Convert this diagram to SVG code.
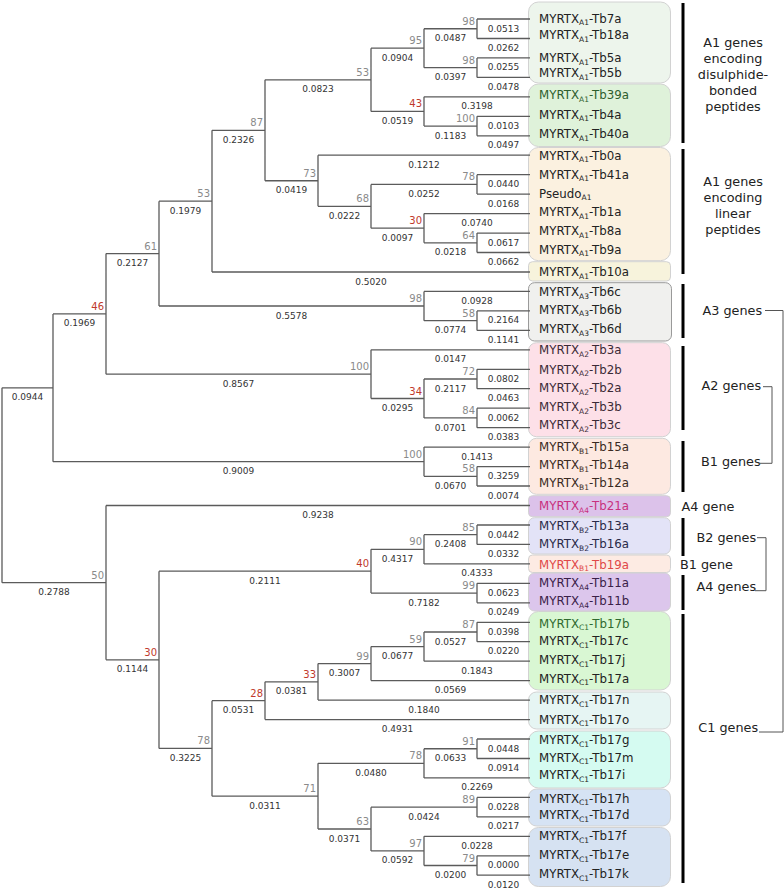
<svg xmlns="http://www.w3.org/2000/svg" width="784" height="889" viewBox="0 0 784 889">
<style>
text{font-family:"DejaVu Sans","Liberation Sans",sans-serif}
.tree{fill:none;stroke:#5b5b5b;stroke-width:1.3}
.bl{font-size:9px;fill:#333;text-anchor:middle}
.sup{font-size:10px;fill:#8a8a8a;text-anchor:end}
.red{fill:#c0392b}
.lf{font-size:11.8px;fill:#222}
.sb{font-size:7.5px}
.box{stroke:#d2d2d2;stroke-width:1}
.bar{stroke:#000;stroke-width:3}
.gl{font-size:12.8px;fill:#222}
.gc{text-anchor:middle}
.brk{fill:none;stroke:#555;stroke-width:1}
</style>
<rect width="784" height="889" fill="#fff"/>
<g id="clade-boxes">
<rect id="box-a1-db1" class="box" x="528.5" y="2" width="142" height="81" rx="10" fill="#edf5ec"/>
<rect id="box-a1-db2" class="box" x="528.5" y="84" width="142" height="62.5" rx="10" fill="#dff2da"/>
<rect id="box-a1-lin" class="box" x="528.5" y="147.5" width="142" height="113.2" rx="10" fill="#fbf1e0"/>
<rect id="box-a1-10a" class="box" x="528.5" y="261.7" width="142" height="19.3" rx="4" fill="#f7f3dc"/>
<rect id="box-a3" class="box" x="528.5" y="282.7" width="143" height="58.3" rx="6" fill="#f0f0ee" style="stroke:#9a9a9a"/>
<rect id="box-a2" class="box" x="528.5" y="342.7" width="142" height="94" rx="8" fill="#fde0e8"/>
<rect id="box-b1" class="box" x="528.5" y="438.3" width="142" height="56" rx="8" fill="#fde9e1"/>
<rect id="box-a4-21a" class="box" x="528.5" y="495.7" width="142" height="21" rx="4" fill="#dcc2ea"/>
<rect id="box-b2" class="box" x="528.5" y="517.7" width="142" height="36.3" rx="6" fill="#e3e3f7"/>
<rect id="box-b1-19a" class="box" x="528.5" y="555" width="142" height="17.5" rx="4" fill="#fdebe3"/>
<rect id="box-a4" class="box" x="528.5" y="573" width="142" height="38" rx="6" fill="#dcc6ec"/>
<rect id="box-c1-a" class="box" x="528.5" y="611.5" width="142" height="78.5" rx="10" fill="#d9f7d3"/>
<rect id="box-c1-b" class="box" x="528.5" y="692" width="142" height="37" rx="8" fill="#e6f5f3"/>
<rect id="box-c1-c" class="box" x="528.5" y="731" width="142" height="57" rx="10" fill="#d5fbf1"/>
<rect id="box-c1-d" class="box" x="528.5" y="789" width="142" height="37" rx="8" fill="#d6e3f4"/>
<rect id="box-c1-e" class="box" x="528.5" y="827.5" width="142" height="59" rx="10" fill="#d6e2f2"/>
</g>
<g id="connectors">
<path class="tree" d="M2,387.8V582.65M2,387.8H53M2,582.65H106
M53,313.9V461.7M53,313.9H106M53,461.7H424
M106,253.6V374.15M106,253.6H159M106,374.15H371
M159,201.15V306M159,201.15H212M159,306H424
M212,130.3V272M212,130.3H265M212,272H530
M265,79.8V180.75M265,79.8H371M265,180.75H318
M371,48.2V111.4M371,48.2H424M371,111.4H424
M424,28.75V67.65M424,28.75H477M424,67.65H477
M477,19V38.5M477,19H530M477,38.5H530
M477,57.9V77.4M477,57.9H530M477,77.4H530
M424,96.8V126.05M424,96.8H530M424,126.05H477
M477,116.3V135.8M477,116.3H530M477,135.8H530
M318,155.2V206.3M318,155.2H530M318,206.3H371
M371,184.4V228.2M371,184.4H477M371,228.2H424
M477,174.7V194.1M477,174.7H530M477,194.1H530
M424,213.6V242.8M424,213.6H530M424,242.8H477
M477,233.1V252.5M477,233.1H530M477,252.5H530
M424,291.4V320.65M424,291.4H530M424,320.65H477
M477,310.9V330.4M477,310.9H530M477,330.4H530
M371,349.8V398.5M371,349.8H530M371,398.5H424
M424,379V417.95M424,379H477M424,417.95H477
M477,369.3V388.7M477,369.3H530M477,388.7H530
M477,408.2V427.7M477,408.2H530M477,427.7H530
M424,447.1V476.3M424,447.1H530M424,476.3H477
M477,466.6V486M477,466.6H530M477,486H530
M106,505.5V659.8M106,505.5H530M106,659.8H159
M159,571.2V748.4M159,571.2H371M159,748.4H212
M371,549.3V593.05M371,549.3H424M371,593.05H477
M424,534.7V563.9M424,534.7H477M424,563.9H530
M477,525V544.4M477,525H530M477,544.4H530
M477,583.3V602.8M477,583.3H530M477,602.8H530
M212,700.7V796.15M212,700.7H265M212,796.15H318
M265,681.85V719.6M265,681.85H318M265,719.6H530
M318,663.6V700.1M318,663.6H371M318,700.1H530
M371,646.6V680.6M371,646.6H424M371,680.6H530
M424,632V661.2M424,632H477M424,661.2H530
M477,622.3V641.7M477,622.3H530M477,641.7H530
M318,763.3V829M318,763.3H424M318,829H371
M424,748.75V777.9M424,748.75H477M424,777.9H530
M477,739V758.5M477,739H530M477,758.5H530
M371,807.15V850.9M371,807.15H477M371,850.9H424
M477,797.4V816.9M477,797.4H530M477,816.9H530
M424,836.3V865.5M424,836.3H530M424,865.5H477
M477,855.8V875.2M477,855.8H530M477,875.2H530"/>
<g id="branch-lengths">
<text class="bl" x="27.5" y="400.3">0.0944</text><text class="bl" x="54" y="595.2">0.2788</text>
<text class="bl" x="79.5" y="326.4">0.1969</text><text class="bl" x="238.5" y="474.2">0.9009</text>
<text class="bl" x="132.5" y="266.1">0.2127</text><text class="bl" x="238.5" y="386.7">0.8567</text>
<text class="bl" x="185.5" y="213.7">0.1979</text><text class="bl" x="291.5" y="318.5">0.5578</text>
<text class="bl" x="238.5" y="142.8">0.2326</text><text class="bl" x="371" y="284.5">0.5020</text>
<text class="bl" x="318" y="92.3">0.0823</text><text class="bl" x="291.5" y="193.3">0.0419</text>
<text class="bl" x="397.5" y="60.7">0.0904</text><text class="bl" x="397.5" y="123.9">0.0519</text>
<text class="bl" x="450.5" y="41.3">0.0487</text><text class="bl" x="450.5" y="80.2">0.0397</text>
<text class="bl" x="503.5" y="31.5">0.0513</text><text class="bl" x="503.5" y="51">0.0262</text>
<text class="bl" x="503.5" y="70.4">0.0255</text><text class="bl" x="503.5" y="89.9">0.0478</text>
<text class="bl" x="477" y="109.3">0.3198</text><text class="bl" x="450.5" y="138.6">0.1183</text>
<text class="bl" x="503.5" y="128.8">0.0103</text><text class="bl" x="503.5" y="148.3">0.0497</text>
<text class="bl" x="424" y="167.7">0.1212</text><text class="bl" x="344.5" y="218.8">0.0222</text>
<text class="bl" x="424" y="196.9">0.0252</text><text class="bl" x="397.5" y="240.7">0.0097</text>
<text class="bl" x="503.5" y="187.2">0.0440</text><text class="bl" x="503.5" y="206.6">0.0168</text>
<text class="bl" x="477" y="226.1">0.0740</text><text class="bl" x="450.5" y="255.3">0.0218</text>
<text class="bl" x="503.5" y="245.6">0.0617</text><text class="bl" x="503.5" y="265">0.0662</text>
<text class="bl" x="477" y="303.9">0.0928</text><text class="bl" x="450.5" y="333.2">0.0774</text>
<text class="bl" x="503.5" y="323.4">0.2164</text><text class="bl" x="503.5" y="342.9">0.1141</text>
<text class="bl" x="450.5" y="362.3">0.0147</text><text class="bl" x="397.5" y="411">0.0295</text>
<text class="bl" x="450.5" y="391.5">0.2117</text><text class="bl" x="450.5" y="430.5">0.0701</text>
<text class="bl" x="503.5" y="381.8">0.0802</text><text class="bl" x="503.5" y="401.2">0.0463</text>
<text class="bl" x="503.5" y="420.7">0.0062</text><text class="bl" x="503.5" y="440.2">0.0383</text>
<text class="bl" x="477" y="459.6">0.1413</text><text class="bl" x="450.5" y="488.8">0.0670</text>
<text class="bl" x="503.5" y="479.1">0.3259</text><text class="bl" x="503.5" y="498.5">0.0074</text>
<text class="bl" x="318" y="518">0.9238</text><text class="bl" x="132.5" y="672.3">0.1144</text>
<text class="bl" x="265" y="583.7">0.2111</text><text class="bl" x="185.5" y="760.9">0.3225</text>
<text class="bl" x="397.5" y="561.8">0.4317</text><text class="bl" x="424" y="605.6">0.7182</text>
<text class="bl" x="450.5" y="547.2">0.2408</text><text class="bl" x="477" y="576.4">0.4333</text>
<text class="bl" x="503.5" y="537.5">0.0442</text><text class="bl" x="503.5" y="556.9">0.0332</text>
<text class="bl" x="503.5" y="595.8">0.0623</text><text class="bl" x="503.5" y="615.3">0.0249</text>
<text class="bl" x="238.5" y="713.2">0.0531</text><text class="bl" x="265" y="808.7">0.0311</text>
<text class="bl" x="291.5" y="694.4">0.0381</text><text class="bl" x="397.5" y="732.1">0.4931</text>
<text class="bl" x="344.5" y="676.1">0.3007</text><text class="bl" x="424" y="712.6">0.1840</text>
<text class="bl" x="397.5" y="659.1">0.0677</text><text class="bl" x="450.5" y="693.1">0.0569</text>
<text class="bl" x="450.5" y="644.5">0.0527</text><text class="bl" x="477" y="673.7">0.1843</text>
<text class="bl" x="503.5" y="634.8">0.0398</text><text class="bl" x="503.5" y="654.2">0.0220</text>
<text class="bl" x="371" y="775.8">0.0480</text><text class="bl" x="344.5" y="841.5">0.0371</text>
<text class="bl" x="450.5" y="761.3">0.0633</text><text class="bl" x="477" y="790.4">0.2269</text>
<text class="bl" x="503.5" y="751.5">0.0448</text><text class="bl" x="503.5" y="771">0.0914</text>
<text class="bl" x="424" y="819.7">0.0424</text><text class="bl" x="397.5" y="863.4">0.0592</text>
<text class="bl" x="503.5" y="809.9">0.0228</text><text class="bl" x="503.5" y="829.4">0.0217</text>
<text class="bl" x="477" y="848.8">0.0228</text><text class="bl" x="450.5" y="878">0.0200</text>
<text class="bl" x="503.5" y="868.3">0.0000</text><text class="bl" x="503.5" y="887.7">0.0120</text>
</g>
</g>
<g id="internal-nodes">
<g id="n98a"><text class="sup" x="475" y="24.75">98</text></g>
<g id="n98b"><text class="sup" x="475" y="63.65">98</text></g>
<g id="n95"><text class="sup" x="422" y="44.2">95</text></g>
<g id="n100a"><text class="sup" x="475" y="122.05">100</text></g>
<g id="n43"><text class="sup red" x="422" y="107.4">43</text></g>
<g id="n53a"><text class="sup" x="369" y="75.8">53</text></g>
<g id="n78a"><text class="sup" x="475" y="180.4">78</text></g>
<g id="n64"><text class="sup" x="475" y="238.8">64</text></g>
<g id="n30a"><text class="sup red" x="422" y="224.2">30</text></g>
<g id="n68"><text class="sup" x="369" y="202.3">68</text></g>
<g id="n73"><text class="sup" x="316" y="176.75">73</text></g>
<g id="n87"><text class="sup" x="263" y="126.3">87</text></g>
<g id="n53b"><text class="sup" x="210" y="197.15">53</text></g>
<g id="n58a"><text class="sup" x="475" y="316.65">58</text></g>
<g id="n98c"><text class="sup" x="422" y="302">98</text></g>
<g id="n61"><text class="sup" x="157" y="249.6">61</text></g>
<g id="n72"><text class="sup" x="475" y="375">72</text></g>
<g id="n84"><text class="sup" x="475" y="413.95">84</text></g>
<g id="n34"><text class="sup red" x="422" y="394.5">34</text></g>
<g id="n100b"><text class="sup" x="369" y="370.15">100</text></g>
<g id="n46"><text class="sup red" x="104" y="309.9">46</text></g>
<g id="n58b"><text class="sup" x="475" y="472.3">58</text></g>
<g id="n100c"><text class="sup" x="422" y="457.7">100</text></g>
<g id="n50"><text class="sup" x="104" y="578.65">50</text></g>
<g id="n85"><text class="sup" x="475" y="530.7">85</text></g>
<g id="n90"><text class="sup" x="422" y="545.3">90</text></g>
<g id="n99a"><text class="sup" x="475" y="589.05">99</text></g>
<g id="n40"><text class="sup red" x="369" y="567.2">40</text></g>
<g id="n87b"><text class="sup" x="475" y="628">87</text></g>
<g id="n59"><text class="sup" x="422" y="642.6">59</text></g>
<g id="n99b"><text class="sup" x="369" y="659.6">99</text></g>
<g id="n33"><text class="sup red" x="316" y="677.85">33</text></g>
<g id="n28"><text class="sup red" x="263" y="696.7">28</text></g>
<g id="n30b"><text class="sup red" x="157" y="655.8">30</text></g>
<g id="n91"><text class="sup" x="475" y="744.75">91</text></g>
<g id="n78c"><text class="sup" x="422" y="759.3">78</text></g>
<g id="n89"><text class="sup" x="475" y="803.15">89</text></g>
<g id="n79"><text class="sup" x="475" y="861.5">79</text></g>
<g id="n97"><text class="sup" x="422" y="846.9">97</text></g>
<g id="n63"><text class="sup" x="369" y="825">63</text></g>
<g id="n71"><text class="sup" x="316" y="792.15">71</text></g>
<g id="n78b"><text class="sup" x="210" y="744.4">78</text></g>
</g>
<g id="leaves">
<g id="leaf-Tb7a"><text class="lf" x="539" y="22.6">MYRTX<tspan class="sb" dy="2.5">A1</tspan><tspan dy="-2.5">-Tb7a</tspan></text></g>
<g id="leaf-Tb18a"><text class="lf" x="539" y="39.3">MYRTX<tspan class="sb" dy="2.5">A1</tspan><tspan dy="-2.5">-Tb18a</tspan></text></g>
<g id="leaf-Tb5a"><text class="lf" x="539" y="62">MYRTX<tspan class="sb" dy="2.5">A1</tspan><tspan dy="-2.5">-Tb5a</tspan></text></g>
<g id="leaf-Tb5b"><text class="lf" x="539" y="77">MYRTX<tspan class="sb" dy="2.5">A1</tspan><tspan dy="-2.5">-Tb5b</tspan></text></g>
<g id="leaf-Tb39a"><text class="lf" x="539" y="99.3" style="fill:#2e5e2e">MYRTX<tspan class="sb" dy="2.5">A1</tspan><tspan dy="-2.5">-Tb39a</tspan></text></g>
<g id="leaf-Tb4a"><text class="lf" x="539" y="118.6">MYRTX<tspan class="sb" dy="2.5">A1</tspan><tspan dy="-2.5">-Tb4a</tspan></text></g>
<g id="leaf-Tb40a"><text class="lf" x="539" y="138.3">MYRTX<tspan class="sb" dy="2.5">A1</tspan><tspan dy="-2.5">-Tb40a</tspan></text></g>
<g id="leaf-Tb0a"><text class="lf" x="539" y="159.6">MYRTX<tspan class="sb" dy="2.5">A1</tspan><tspan dy="-2.5">-Tb0a</tspan></text></g>
<g id="leaf-Tb41a"><text class="lf" x="539" y="178.6">MYRTX<tspan class="sb" dy="2.5">A1</tspan><tspan dy="-2.5">-Tb41a</tspan></text></g>
<g id="leaf-Pseudo"><text class="lf" x="539" y="197.6">Pseudo<tspan class="sb" dy="2.5">A1</tspan></text></g>
<g id="leaf-Tb1a"><text class="lf" x="539" y="216">MYRTX<tspan class="sb" dy="2.5">A1</tspan><tspan dy="-2.5">-Tb1a</tspan></text></g>
<g id="leaf-Tb8a"><text class="lf" x="539" y="235.3">MYRTX<tspan class="sb" dy="2.5">A1</tspan><tspan dy="-2.5">-Tb8a</tspan></text></g>
<g id="leaf-Tb9a"><text class="lf" x="539" y="253.6">MYRTX<tspan class="sb" dy="2.5">A1</tspan><tspan dy="-2.5">-Tb9a</tspan></text></g>
<g id="leaf-Tb10a"><text class="lf" x="539" y="276">MYRTX<tspan class="sb" dy="2.5">A1</tspan><tspan dy="-2.5">-Tb10a</tspan></text></g>
<g id="leaf-Tb6c"><text class="lf" x="539" y="296">MYRTX<tspan class="sb" dy="2.5">A3</tspan><tspan dy="-2.5">-Tb6c</tspan></text></g>
<g id="leaf-Tb6b"><text class="lf" x="539" y="313.6">MYRTX<tspan class="sb" dy="2.5">A3</tspan><tspan dy="-2.5">-Tb6b</tspan></text></g>
<g id="leaf-Tb6d"><text class="lf" x="539" y="333.3">MYRTX<tspan class="sb" dy="2.5">A3</tspan><tspan dy="-2.5">-Tb6d</tspan></text></g>
<g id="leaf-Tb3a"><text class="lf" x="539" y="354.3" style="fill:#3b2a36">MYRTX<tspan class="sb" dy="2.5">A2</tspan><tspan dy="-2.5">-Tb3a</tspan></text></g>
<g id="leaf-Tb2b"><text class="lf" x="539" y="373.6" style="fill:#3b2a36">MYRTX<tspan class="sb" dy="2.5">A2</tspan><tspan dy="-2.5">-Tb2b</tspan></text></g>
<g id="leaf-Tb2a"><text class="lf" x="539" y="392" style="fill:#3b2a36">MYRTX<tspan class="sb" dy="2.5">A2</tspan><tspan dy="-2.5">-Tb2a</tspan></text></g>
<g id="leaf-Tb3b"><text class="lf" x="539" y="411.3" style="fill:#3b2a36">MYRTX<tspan class="sb" dy="2.5">A2</tspan><tspan dy="-2.5">-Tb3b</tspan></text></g>
<g id="leaf-Tb3c"><text class="lf" x="539" y="429.3" style="fill:#3b2a36">MYRTX<tspan class="sb" dy="2.5">A2</tspan><tspan dy="-2.5">-Tb3c</tspan></text></g>
<g id="leaf-Tb15a"><text class="lf" x="539" y="451" style="fill:#3a2a22">MYRTX<tspan class="sb" dy="2.5">B1</tspan><tspan dy="-2.5">-Tb15a</tspan></text></g>
<g id="leaf-Tb14a"><text class="lf" x="539" y="469.3" style="fill:#3a2a22">MYRTX<tspan class="sb" dy="2.5">B1</tspan><tspan dy="-2.5">-Tb14a</tspan></text></g>
<g id="leaf-Tb12a"><text class="lf" x="539" y="487" style="fill:#3a2a22">MYRTX<tspan class="sb" dy="2.5">B1</tspan><tspan dy="-2.5">-Tb12a</tspan></text></g>
<g id="leaf-Tb21a"><text class="lf" x="539" y="510.3" style="fill:#c8307e">MYRTX<tspan class="sb" dy="2.5">A4</tspan><tspan dy="-2.5">-Tb21a</tspan></text></g>
<g id="leaf-Tb13a"><text class="lf" x="539" y="530" style="fill:#2a2a48">MYRTX<tspan class="sb" dy="2.5">B2</tspan><tspan dy="-2.5">-Tb13a</tspan></text></g>
<g id="leaf-Tb16a"><text class="lf" x="539" y="548.3" style="fill:#2a2a48">MYRTX<tspan class="sb" dy="2.5">B2</tspan><tspan dy="-2.5">-Tb16a</tspan></text></g>
<g id="leaf-Tb19a"><text class="lf" x="539" y="568.6" style="fill:#e04848">MYRTX<tspan class="sb" dy="2.5">B1</tspan><tspan dy="-2.5">-Tb19a</tspan></text></g>
<g id="leaf-Tb11a"><text class="lf" x="539" y="587" style="fill:#3a2048">MYRTX<tspan class="sb" dy="2.5">A4</tspan><tspan dy="-2.5">-Tb11a</tspan></text></g>
<g id="leaf-Tb11b"><text class="lf" x="539" y="605" style="fill:#3a2048">MYRTX<tspan class="sb" dy="2.5">A4</tspan><tspan dy="-2.5">-Tb11b</tspan></text></g>
<g id="leaf-Tb17b"><text class="lf" x="539" y="627.6" style="fill:#2f6a2f">MYRTX<tspan class="sb" dy="2.5">C1</tspan><tspan dy="-2.5">-Tb17b</tspan></text></g>
<g id="leaf-Tb17c"><text class="lf" x="539" y="645.3">MYRTX<tspan class="sb" dy="2.5">C1</tspan><tspan dy="-2.5">-Tb17c</tspan></text></g>
<g id="leaf-Tb17j"><text class="lf" x="539" y="664.3">MYRTX<tspan class="sb" dy="2.5">C1</tspan><tspan dy="-2.5">-Tb17j</tspan></text></g>
<g id="leaf-Tb17a"><text class="lf" x="539" y="682.6">MYRTX<tspan class="sb" dy="2.5">C1</tspan><tspan dy="-2.5">-Tb17a</tspan></text></g>
<g id="leaf-Tb17n"><text class="lf" x="539" y="704.3">MYRTX<tspan class="sb" dy="2.5">C1</tspan><tspan dy="-2.5">-Tb17n</tspan></text></g>
<g id="leaf-Tb17o"><text class="lf" x="539" y="723.6">MYRTX<tspan class="sb" dy="2.5">C1</tspan><tspan dy="-2.5">-Tb17o</tspan></text></g>
<g id="leaf-Tb17g"><text class="lf" x="539" y="744.3">MYRTX<tspan class="sb" dy="2.5">C1</tspan><tspan dy="-2.5">-Tb17g</tspan></text></g>
<g id="leaf-Tb17m"><text class="lf" x="539" y="761.6">MYRTX<tspan class="sb" dy="2.5">C1</tspan><tspan dy="-2.5">-Tb17m</tspan></text></g>
<g id="leaf-Tb17i"><text class="lf" x="539" y="779.3">MYRTX<tspan class="sb" dy="2.5">C1</tspan><tspan dy="-2.5">-Tb17i</tspan></text></g>
<g id="leaf-Tb17h"><text class="lf" x="539" y="802.6">MYRTX<tspan class="sb" dy="2.5">C1</tspan><tspan dy="-2.5">-Tb17h</tspan></text></g>
<g id="leaf-Tb17d"><text class="lf" x="539" y="819.3">MYRTX<tspan class="sb" dy="2.5">C1</tspan><tspan dy="-2.5">-Tb17d</tspan></text></g>
<g id="leaf-Tb17f"><text class="lf" x="539" y="840">MYRTX<tspan class="sb" dy="2.5">C1</tspan><tspan dy="-2.5">-Tb17f</tspan></text></g>
<g id="leaf-Tb17e"><text class="lf" x="539" y="859.3">MYRTX<tspan class="sb" dy="2.5">C1</tspan><tspan dy="-2.5">-Tb17e</tspan></text></g>
<g id="leaf-Tb17k"><text class="lf" x="539" y="878.3">MYRTX<tspan class="sb" dy="2.5">C1</tspan><tspan dy="-2.5">-Tb17k</tspan></text></g>
</g>
<g id="group-bars">
<line class="bar" x1="683" y1="3" x2="683" y2="143"/>
<line class="bar" x1="683" y1="149" x2="683" y2="274"/>
<line class="bar" x1="683" y1="284" x2="683" y2="338"/>
<line class="bar" x1="683" y1="346" x2="683" y2="430"/>
<line class="bar" x1="683" y1="441" x2="683" y2="492"/>
<line class="bar" x1="683" y1="518" x2="683" y2="556"/>
<line class="bar" x1="683" y1="575" x2="683" y2="610"/>
<line class="bar" x1="683" y1="614" x2="683" y2="883"/>
</g>
<g id="group-labels">
<text class="gl gc" x="733" y="47">A1 genes</text>
<text class="gl gc" x="733" y="63">encoding</text>
<text class="gl gc" x="733" y="79">disulphide-</text>
<text class="gl gc" x="733" y="95">bonded</text>
<text class="gl gc" x="733" y="111">peptides</text>
<text class="gl gc" x="733" y="186">A1 genes</text>
<text class="gl gc" x="733" y="202">encoding</text>
<text class="gl gc" x="733" y="218">linear</text>
<text class="gl gc" x="733" y="234">peptides</text>
<text class="gl" x="702.5" y="315">A3 genes</text>
<text class="gl" x="701.5" y="389.5">A2 genes</text>
<text class="gl" x="701" y="466">B1 genes</text>
<text class="gl" x="681.5" y="511">A4 gene</text>
<text class="gl" x="696.5" y="542">B2 genes</text>
<text class="gl" x="680" y="568.8">B1 gene</text>
<text class="gl" x="696.5" y="591">A4 genes</text>
<text class="gl" x="698.3" y="731.5">C1 genes</text>
</g>
<g id="group-brackets">
<path class="brk" d="M765,310.5H783V732H759"/>
<path class="brk" d="M763,386.7H772V463.3H759"/>
<path class="brk" d="M757,537.7H766V590.7H755"/>
</g>
</svg>
